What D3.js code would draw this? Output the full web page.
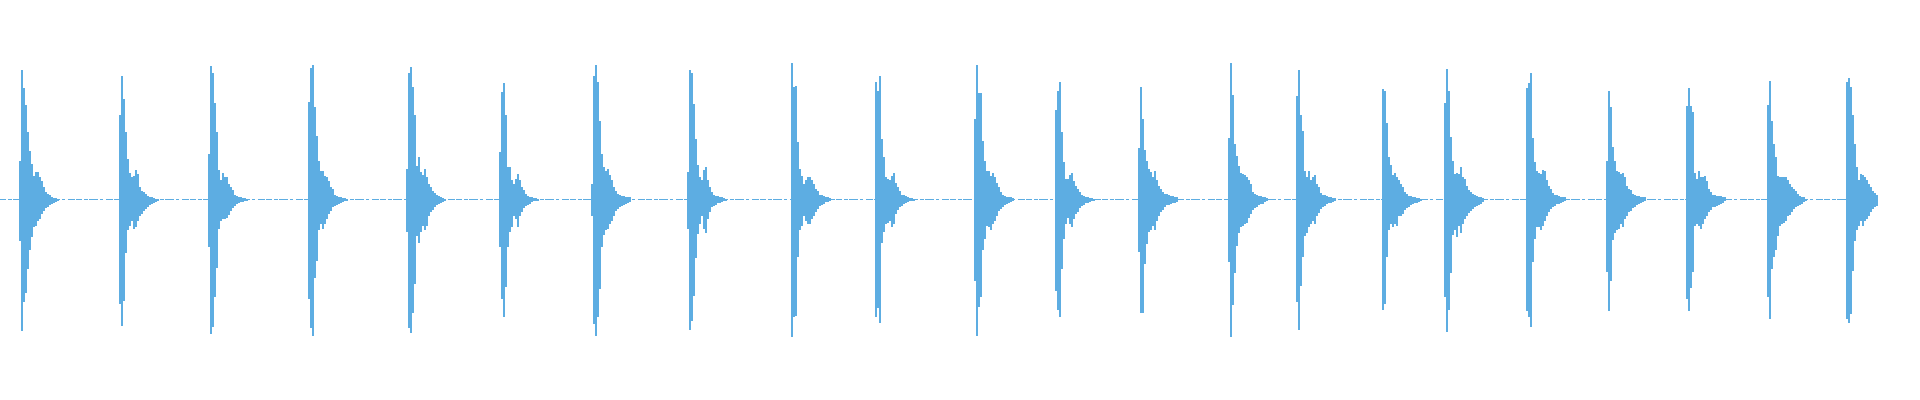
<!DOCTYPE html>
<html>
<head>
<meta charset="utf-8">
<script src="https://cdn.jsdelivr.net/npm/d3@7"></script>
<style>
  html, body { margin: 0; padding: 0; background: #ffffff; }
  svg { display: block; }
</style>
</head>
<body>
<div id="chart"></div>
<script>
// ---- data (time in seconds, level in waveform amplitude units) ----
const hitOnsets = [0.19, 1.19, 2.08, 3.08, 4.06, 4.99, 5.91, 6.87, 7.91, 8.75, 9.74,
                   10.55, 11.38, 12.28, 12.96, 13.82, 14.44, 15.26, 16.06, 16.86, 17.67, 18.46];
const envStep = 0.02;      // seconds per envelope bin
const clipEnd = 18.78;     // end of the recording
const timeDomain = [0, 19.2];
const levelDomain = [-150, 150];

// positive peak per bin for each hit
const hitUpper = [
  [39,130,112,95,68,49,36,24,28,28,23,18,13,8,6,5,3,2,2,1],
  [85,124,100,68,41,27,23,24,30,26,13,9,8,6,4,3,3,2,1,1],
  [46,134,126,97,68,30,20,27,23,23,16,13,10,5,4,3,3,2,2,1],
  [98,132,135,93,64,39,29,29,24,23,18,13,11,5,4,3,3,2,2,1],
  [31,126,133,113,84,34,43,28,25,31,23,16,12,9,7,5,4,3,2,1],
  [48,108,116,84,33,33,19,15,21,26,19,13,10,6,4,3,3,2,2,1],
  [16,123,135,118,79,46,33,29,31,25,20,13,9,6,5,4,4,3,3,3],
  [28,130,127,96,61,35,23,19,30,33,19,13,8,5,4,4,3,3,2,1],
  [136,113,114,58,31,24,16,20,23,23,20,16,11,9,5,5,4,3,3,2],
  [118,109,123,61,43,23,21,19,24,27,17,12,9,5,5,4,3,2,2,1],
  [80,135,106,106,59,39,29,29,24,27,23,17,12,8,5,4,3,3,3,2],
  [90,109,118,68,38,21,21,25,27,18,14,11,8,5,4,3,3,2,2,1],
  [51,113,80,50,39,31,28,23,29,19,14,11,8,6,6,5,4,4,3,3],
  [62,136,105,56,44,34,27,26,25,23,19,16,8,6,5,4,4,3,3,2],
  [103,130,85,69,29,23,29,20,23,25,16,12,7,5,5,4,3,3,2,2],
  [110,109,77,43,35,25,27,23,20,16,13,8,6,4,4,3,3,2,2,1],
  [97,131,109,63,39,26,27,26,33,23,21,14,10,8,6,5,4,3,3,2],
  [112,117,127,62,38,29,27,26,30,29,19,14,11,7,5,5,4,3,3,3],
  [39,109,93,53,39,29,28,26,27,22,14,11,10,6,5,4,4,3,3,3],
  [94,112,94,87,27,21,29,22,23,24,18,11,8,5,5,4,4,4,3,3],
  [95,119,79,56,43,24,22,23,23,22,19,16,13,11,9,6,4,3,3,1],
  [118,122,113,85,56,33,19,26,25,23,19,16,12,9,7,5]
];
// negative peak (magnitude) per bin for each hit
const hitLower = [
  [41,131,102,93,69,50,37,27,26,22,19,14,11,8,7,5,4,3,2,1],
  [104,126,101,54,31,26,22,29,27,22,17,14,11,9,7,5,4,3,2,1],
  [47,134,127,97,68,29,22,20,20,18,15,11,8,6,4,3,2,2,1,1],
  [99,129,136,79,61,31,24,29,24,19,14,11,7,6,5,4,3,2,1,1],
  [32,128,133,113,84,36,43,32,26,31,26,17,12,10,7,5,4,3,2,1],
  [47,99,117,87,48,32,27,17,20,27,17,12,8,6,5,4,2,1,1,1],
  [16,124,136,118,89,47,35,31,29,24,21,16,11,9,7,6,5,4,3,2],
  [29,130,121,96,58,34,24,17,29,33,19,12,7,6,5,3,3,2,1,1],
  [137,117,116,57,30,26,17,22,24,24,20,17,12,9,6,5,4,2,2,1],
  [117,109,123,43,32,24,23,21,28,24,14,10,7,6,4,3,2,1,1,1],
  [81,136,107,97,51,39,26,27,30,24,21,16,11,9,7,5,4,3,2,1],
  [91,110,118,69,39,24,18,25,27,19,14,12,8,6,5,3,3,2,1,1],
  [52,113,113,64,44,32,31,26,31,22,16,12,10,7,5,5,4,3,3,2],
  [62,137,106,73,46,33,27,26,24,23,18,14,10,8,7,5,4,4,2,1],
  [102,130,86,57,36,33,28,24,21,24,17,13,9,7,6,4,3,3,2,1],
  [110,104,57,31,24,27,24,26,17,16,14,10,8,7,5,4,3,3,2,1],
  [97,132,110,73,35,31,37,26,33,25,20,17,13,11,9,7,6,5,4,2],
  [111,117,127,62,39,28,27,31,26,21,17,12,9,7,6,4,4,3,2,1],
  [72,111,81,40,33,31,29,24,27,19,16,12,11,8,7,5,4,3,2,1],
  [99,112,88,72,26,25,26,29,24,20,16,12,10,7,7,6,5,4,3,1],
  [97,119,69,57,50,36,26,24,23,22,17,15,12,9,7,6,5,4,2,1],
  [119,123,114,71,41,30,26,22,26,22,19,17,12,9,7,6]
];

// ---- drawing ----
const W = 1920, H = 400;
const color = "#5dade2";

const x = d3.scaleLinear().domain(timeDomain).range([0, W]);
const y = d3.scaleLinear().domain(levelDomain).range([349.5, 49.5]);

const svg = d3.select("#chart").append("svg")
  .attr("width", W).attr("height", H)
  .attr("shape-rendering", "crispEdges");

// build bins from the data
const bins = [];
hitOnsets.forEach((t, h) => {
  hitUpper[h].forEach((up, i) => {
    const t0 = t + i * envStep;
    const t1 = Math.min(t0 + envStep, clipEnd);
    bins.push({ t0, t1, up, lo: hitLower[h][i] });
  });
});

// noise floor: a broken 1px line at the zero level
svg.append("line")
  .attr("x1", x(0))
  .attr("x2", x(clipEnd))
  .attr("y1", Math.floor(y(0)) + 0.5)
  .attr("y2", Math.floor(y(0)) + 0.5)
  .attr("stroke", color)
  .attr("stroke-width", 1)
  .attr("stroke-dasharray", "6 2 4 1 9 2 3 3 7 1");

svg.append("g").selectAll("rect")
  .data(bins)
  .join("rect")
  .attr("x", d => Math.round(x(d.t0)))
  .attr("width", d => Math.round(x(d.t1)) - Math.round(x(d.t0)))
  .attr("y", d => Math.round(y(d.up)))
  .attr("height", d => Math.round(y(-d.lo)) - Math.round(y(d.up)))
  .attr("fill", color);
</script>
</body>
</html>
